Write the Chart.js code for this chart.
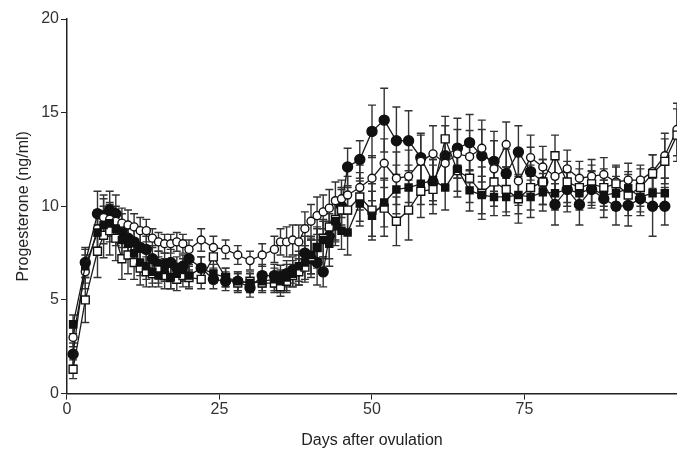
<!DOCTYPE html>
<html>
<head>
<meta charset="utf-8">
<script src="https://cdn.jsdelivr.net/npm/chart.js@4/dist/chart.umd.min.js"></script>
<style>
  html, body { margin: 0; padding: 0; background: #fff; }
  #wrap { width: 677px; height: 450px; }
</style>
</head>
<body>
<div id="wrap"><canvas id="chart"></canvas></div>
<script>
// sampling days
const days = [1, 3, 5, 6, 7, 8, 9, 10, 11, 12, 13, 14, 15, 16, 17, 18, 19, 20,
  22, 24, 26, 28, 30, 32, 34, 35, 36, 37, 38, 39, 40, 41, 42, 43, 44, 45, 46,
  48, 50, 52, 54, 56, 58, 60, 62, 64, 66, 68, 70, 72, 74, 76, 78, 80, 82, 84,
  86, 88, 90, 92, 94, 96, 98, 100];

// filled circles
const filledCircle = [2.1, 7.0, 9.6, 9.5, 9.8, 9.6, 8.7, 8.3, 8.1, 7.8, 7.7, 7.2, 6.9, 6.9, 7.0, 6.7, 6.8, 7.2,
  6.7, 6.1, 6.0, 6.0, 5.65, 6.3, 6.3, 6.25, 6.4, 6.6, 6.6, 7.5, 7.2, 7.0, 6.5, 8.4, 9.0, 10.0, 12.1,
  12.5, 14.0, 14.6, 13.5, 13.5, 12.6, 11.3, 12.7, 13.1, 13.4, 12.7, 12.4, 11.75, 12.9, 11.85, 11.3, 10.1, 10.9, 10.1,
  10.9, 10.4, 10.0, 10.05, 10.4, 10.0, 10.0, null];
const filledCircleErr = [0.6, 0.8, 1.2, 1.1, 1.0, 1.0, 0.9, 0.8, 0.8, 0.8, 0.7, 0.7, 0.7, 0.6, 0.7, 0.6, 0.6, 0.6,
  0.6, 0.5, 0.5, 0.5, 0.5, 0.6, 0.6, 0.6, 0.7, 0.7, 0.8, 0.9, 1.0, 1.2, 0.8, 1.2, 1.1, 1.0, 1.0,
  1.0, 1.4, 1.7, 1.8, 1.6, 1.3, 1.2, 1.6, 1.6, 1.5, 1.4, 1.6, 1.3, 1.4, 1.3, 1.2, 1.1, 1.2, 1.1,
  1.0, 1.0, 1.0, 1.1, 0.9, 1.6, 1.0, null];

// open circles
const openCircle = [3.0, 6.5, 8.8, 9.4, 9.3, 9.2, 9.1, 9.0, 8.9, 8.7, 8.7, 8.3, 8.1, 8.0, 8.0, 8.1, 8.0, 7.7,
  8.2, 7.8, 7.7, 7.4, 7.1, 7.4, 7.7, 8.1, 8.1, 8.2, 8.1, 8.8, 9.2, 9.5, 9.7, 9.9, 10.3, 10.4, 10.6,
  11.0, 11.5, 12.3, 11.5, 11.6, 12.4, 12.8, 12.3, 12.8, 12.65, 13.1, 12.0, 13.3, 11.35, 12.6, 12.1, 11.6, 12.0, 11.5,
  11.6, 11.7, 11.3, 11.4, 11.4, 11.85, 12.7, 14.1];
const openCircleErr = [0.5, 0.9, 1.0, 1.0, 0.9, 0.8, 0.8, 0.8, 0.7, 0.7, 0.6, 0.5, 0.5, 0.5, 0.5, 0.5, 0.5, 0.5,
  0.6, 0.6, 0.5, 0.5, 0.5, 0.6, 0.7, 0.7, 0.8, 0.8, 0.9, 0.9, 0.9, 1.0, 0.9, 1.0, 1.0, 1.0, 1.0,
  1.2, 1.2, 1.3, 1.4, 1.4, 1.4, 1.5, 1.4, 1.3, 1.4, 1.5, 1.5, 1.2, 1.3, 1.2, 1.1, 1.0, 1.0, 0.9,
  0.9, 0.9, 0.8, 0.9, 0.8, 0.9, 1.2, 1.4];

// filled squares
const filledSquare = [3.7, 6.8, 8.6, 9.0, 9.1, 8.8, 8.2, 8.0, 7.5, 7.0, 6.8, 6.5, 6.3, 6.6, 6.2, 6.4, 6.6, 6.3,
  6.7, 6.4, 6.2, 6.0, 5.9, 6.0, 6.1, 6.0, 6.2, 6.4, 6.8, 7.0, 7.4, 7.8, 8.2, 8.0, 9.2, 8.7, 8.6,
  10.15, 9.5, 10.2, 10.9, 11.0, 11.2, 11.4, 11.0, 12.0, 10.85, 10.6, 10.5, 10.5, 10.6, 10.5, 10.75, 10.7, 10.9, 10.7,
  10.95, 10.6, 10.7, 10.95, 10.5, 10.7, 10.7, null];
const filledSquareErr = [0.5, 0.9, 1.1, 1.0, 1.0, 0.9, 0.8, 0.8, 0.7, 0.7, 0.7, 0.6, 0.6, 0.6, 0.6, 0.5, 0.6, 0.6,
  0.6, 0.5, 0.5, 0.5, 0.5, 0.5, 0.6, 0.6, 0.7, 0.7, 0.8, 0.9, 1.0, 1.1, 1.0, 1.2, 1.1, 1.0, 1.2,
  1.2, 1.3, 1.3, 1.3, 1.2, 1.1, 1.1, 1.2, 1.2, 1.1, 1.0, 1.0, 1.0, 1.0, 1.1, 1.0, 0.9, 0.9, 0.9,
  0.9, 0.8, 0.9, 0.9, 0.8, 0.8, 0.8, null];

// open squares
const openSquare = [1.3, 5.0, 7.6, 8.45, 8.7, 8.3, 7.2, 7.4, 7.0, 6.7, 6.5, 6.4, 6.6, 6.3, 6.2, 6.1, 6.3, 6.2,
  6.1, 7.3, 6.2, 5.9, 6.0, 5.9, 5.9, 5.7, 6.0, 6.3, 6.5, 6.75, 7.3, 7.8, 8.3, 8.9, 9.3, 9.8, 9.8,
  10.5, 9.8, 9.9, 9.2, 9.8, 10.8, 10.9, 13.6, 11.9, 11.5, 10.7, 11.3, 10.9, 10.4, 11.0, 11.3, 12.7, 11.3, 11.0,
  11.2, 11.0, 11.2, 10.6, 11.0, 11.75, 12.4, 13.8];
const openSquareErr = [0.5, 1.2, 1.4, 1.2, 1.3, 1.2, 1.1, 1.0, 0.9, 0.9, 0.8, 0.7, 0.7, 0.7, 0.6, 0.6, 0.6, 0.6,
  0.5, 0.6, 0.5, 0.5, 0.5, 0.5, 0.5, 0.5, 0.6, 0.6, 0.7, 0.8, 0.9, 1.0, 1.0, 1.0, 1.1, 1.1, 1.2,
  1.3, 1.4, 1.5, 1.3, 1.6, 1.4, 1.3, 1.2, 1.4, 1.3, 1.4, 1.3, 1.2, 1.3, 1.2, 1.2, 1.1, 1.1, 1.0,
  1.0, 1.0, 1.0, 1.1, 1.0, 1.0, 1.2, 1.4];

const xTicks = [0, 25, 50, 75];
const yTicks = [0, 5, 10, 15, 20];

function pts(vals) {
  return days.map((d, i) => ({ x: d, y: vals[i] }));
}

const seriesErr = [filledSquareErr, openSquareErr, openCircleErr, filledCircleErr];

// vertical error bars with caps, drawn under the markers
const errorBars = {
  id: 'errorBars',
  beforeDatasetsDraw(chart) {
    const ctx = chart.ctx;
    const xs = chart.scales.x, ys = chart.scales.y;
    ctx.save();
    ctx.strokeStyle = '#333';
    ctx.lineWidth = 1.4;
    chart.data.datasets.forEach((ds, i) => {
      const err = seriesErr[i];
      ds.data.forEach((p, j) => {
        if (p.y == null || err[j] == null) return;
        const x = xs.getPixelForValue(p.x);
        const y1 = ys.getPixelForValue(p.y + err[j]);
        const y2 = ys.getPixelForValue(p.y - err[j]);
        ctx.beginPath();
        ctx.moveTo(x, y1); ctx.lineTo(x, y2);
        ctx.moveTo(x - 4, y1); ctx.lineTo(x + 4, y1);
        ctx.moveTo(x - 4, y2); ctx.lineTo(x + 4, y2);
        ctx.stroke();
      });
    });
    ctx.restore();
  }
};

const base = { showLine: true, borderColor: '#1a1a1a', borderWidth: 1.3, pointBorderColor: '#111', pointBorderWidth: 1.4, spanGaps: false };
const font16 = { family: 'Liberation Sans, Arial', size: 16 };

new Chart(document.getElementById('chart'), {
  type: 'scatter',
  data: {
    datasets: [
      { ...base, label: 'filled squares', data: pts(filledSquare), pointStyle: 'rect', pointRadius: 5, pointBackgroundColor: '#111' },
      { ...base, label: 'open squares', data: pts(openSquare), pointStyle: 'rect', pointRadius: 5.6, pointBackgroundColor: '#fff' },
      { ...base, label: 'open circles', data: pts(openCircle), pointStyle: 'circle', pointRadius: 4, pointBackgroundColor: '#fff' },
      { ...base, label: 'filled circles', data: pts(filledCircle), pointStyle: 'circle', pointRadius: 5, pointBackgroundColor: '#111' }
    ]
  },
  options: {
    responsive: true,
    maintainAspectRatio: false,
    animation: false,
    layout: { autoPadding: false, padding: { top: 19, right: 0, left: 10, bottom: 0 } },
    plugins: { legend: { display: false }, tooltip: { enabled: false } },
    scales: {
      x: {
        type: 'linear', min: 0, max: 100,
        afterBuildTicks: (s) => { s.ticks = xTicks.map(v => ({ value: v })); },
        grid: { drawOnChartArea: false, drawTicks: true, tickLength: 6, color: '#222' },
        border: { display: true, color: '#222', width: 1.5 },
        ticks: { color: '#333', font: font16, padding: 0, maxRotation: 0 },
        title: { display: true, text: 'Days after ovulation', color: '#222', font: font16, padding: { top: 12, bottom: 0 } }
      },
      y: {
        min: 0, max: 20,
        afterBuildTicks: (s) => { s.ticks = yTicks.map(v => ({ value: v })); },
        grid: { drawOnChartArea: false, drawTicks: true, tickLength: 6, color: '#222' },
        border: { display: true, color: '#222', width: 1.5 },
        ticks: { color: '#333', font: font16, padding: 2 },
        title: { display: true, text: 'Progesterone (ng/ml)', color: '#222', font: font16, padding: { bottom: 6 } }
      }
    }
  },
  plugins: [errorBars]
});
</script>
</body>
</html>
